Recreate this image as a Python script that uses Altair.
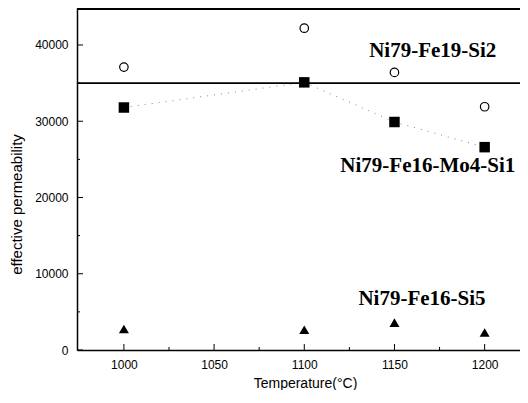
import altair as alt
import pandas as pd

# ---- data ----
temps = [1000, 1100, 1150, 1200]
mo4_si1 = [31800, 35100, 29900, 26600]   # filled squares
fe19_si2 = [37100, 42200, 36400, 31900]  # open circles
fe16_si5 = [2750, 2650, 3600, 2300]      # filled triangles

ref_level = [35000]

x_major = [1000, 1050, 1100, 1150, 1200]
x_minor = [1025, 1075, 1125, 1175]
y_major = [0, 10000, 20000, 30000, 40000]
y_minor = [5000, 15000, 25000, 35000]

labels = ["Ni79-Fe19-Si2", "Ni79-Fe16-Mo4-Si1", "Ni79-Fe16-Si5"]
label_x = [1136, 1120, 1130]
label_y = [38400, 23400, 5900]

W, H = 443, 342
xs = alt.Scale(domain=[974, 1219.6], nice=False, zero=False)
ys = alt.Scale(domain=[0, 44850], nice=False)

sq = pd.DataFrame({"t": temps, "v": mo4_si1})
ci = pd.DataFrame({"t": temps, "v": fe19_si2})
tr = pd.DataFrame({"t": temps, "v": fe16_si5})
lab = pd.DataFrame({"t": label_x, "v": label_y, "s": labels})

x_axis = alt.Axis(values=x_major, format="d", ticks=False, grid=False, domainColor="black", domainWidth=1.5,
                  labelFont="Liberation Sans", labelFontSize=12, labelColor="black", labelPadding=9,
                  title="Temperature(°C)", titleFont="Liberation Sans", titleFontSize=14,
                  titleFontWeight="normal", titleColor="black", titleX=228, titleY=37,
                  titleBaseline="alphabetic", titleAlign="center")
y_axis = alt.Axis(values=y_major, format="d", ticks=False, grid=False, domainColor="black", domainWidth=1.5,
                  labelFont="Liberation Sans", labelFontSize=12, labelColor="black", labelPadding=9,
                  title="effective permeability", titleFont="Liberation Sans", titleFontSize=15,
                  titleFontWeight="normal", titleColor="black", titleX=-61, titleY=196,
                  titleAngle=270, titleAlign="center", titleBaseline="middle")

dotted = alt.Chart(sq).mark_line(color="#888888", strokeWidth=1, strokeDash=[1, 6]).encode(
    x=alt.X("t:Q", scale=xs, axis=x_axis), y=alt.Y("v:Q", scale=ys, axis=y_axis))

rule35 = alt.Chart(pd.DataFrame({"v": ref_level})).mark_rule(color="black", strokeWidth=1.6).encode(
    y=alt.Y("v:Q", scale=ys))

top = alt.Chart(pd.DataFrame({"v": ref_level})).mark_rule(color="black", strokeWidth=2).encode(
    y=alt.value(1))

xmaj = alt.Chart(pd.DataFrame({"t": x_major})).mark_rule(color="black", strokeWidth=1).encode(
    x=alt.X("t:Q", scale=xs), y=alt.value(H), y2=alt.value(H - 6))
xmin = alt.Chart(pd.DataFrame({"t": x_minor})).mark_rule(color="black", strokeWidth=1).encode(
    x=alt.X("t:Q", scale=xs), y=alt.value(H), y2=alt.value(H - 3))
ymaj = alt.Chart(pd.DataFrame({"v": y_major})).mark_rule(color="black", strokeWidth=1).encode(
    y=alt.Y("v:Q", scale=ys), x=alt.value(0), x2=alt.value(6))
ymin = alt.Chart(pd.DataFrame({"v": y_minor})).mark_rule(color="black", strokeWidth=1).encode(
    y=alt.Y("v:Q", scale=ys), x=alt.value(0), x2=alt.value(3))

squares = alt.Chart(sq).mark_point(shape="square", filled=True, color="black", size=110, opacity=1).encode(
    x=alt.X("t:Q", scale=xs), y=alt.Y("v:Q", scale=ys))
circles = alt.Chart(ci).mark_point(shape="circle", filled=False, color="black", size=72,
                                   strokeWidth=1.2, opacity=1).encode(
    x=alt.X("t:Q", scale=xs), y=alt.Y("v:Q", scale=ys))
triangles = alt.Chart(tr).mark_point(shape="triangle-up", filled=True, color="black", size=100, opacity=1).encode(
    x=alt.X("t:Q", scale=xs), y=alt.Y("v:Q", scale=ys))

texts = alt.Chart(lab).mark_text(font="Liberation Serif", fontSize=21, fontWeight="bold", color="black",
                                 align="left", baseline="alphabetic").encode(
    x=alt.X("t:Q", scale=xs), y=alt.Y("v:Q", scale=ys), text="s:N")

chart = alt.layer(dotted, rule35, top, xmaj, xmin, ymaj, ymin, squares, circles, triangles, texts).properties(
    width=W, height=H,
    padding={"left": 69, "top": 0, "right": 0, "bottom": 40},
    autosize=alt.AutoSizeParams(type="none"),
).configure_view(stroke=None)

chart.save("out.html", embed_options={"renderer": "svg", "actions": False})
